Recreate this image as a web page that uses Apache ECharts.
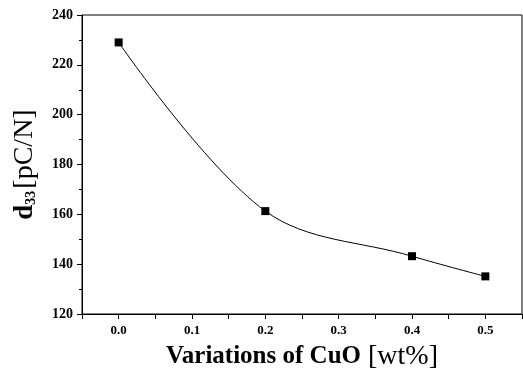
<!DOCTYPE html>
<html><head><meta charset="utf-8">
<script src="https://cdn.jsdelivr.net/npm/echarts@6/dist/echarts.min.js"></script>
<style>html,body{margin:0;padding:0;background:#fff}#c{width:523px;height:368px}</style>
</head><body><div id="c"></div>
<script>
const cuoContent = [0.0, 0.2, 0.4, 0.5];
const d33Values = [229, 161.3, 143.2, 135.1];
const yTicks = [120, 140, 160, 180, 200, 220, 240];

const chart = echarts.init(document.getElementById('c'));
const serif = '"Liberation Serif", "DejaVu Serif", serif';
chart.setOption({
  animation: false,
  grid: {left: 82, top: 15, right: 1, bottom: 54, show: true, borderColor: '#000', borderWidth: 1,
         containLabel: false, outerBoundsMode: 'none'},
  xAxis: {
    type: 'value', min: -0.05, max: 0.55, interval: 0.05,
    axisLine: {onZero: false, lineStyle: {color: '#000', width: 1}},
    axisTick: {show: true, inside: false, length: 5, lineStyle: {color: '#000'}},
    splitLine: {show: false},
    axisLabel: {
      color: '#000', fontFamily: serif, fontWeight: 'bold', fontSize: 13, margin: 10,
      formatter: function (v) {
        const k = Math.round(v * 100);
        if (k < 0 || k > 50 || k % 10 !== 0) return '';
        return (k / 100).toFixed(1);
      }
    },
    name: '{b|Variations of CuO}{r| [wt%]}',
    nameLocation: 'middle', nameGap: 29,
    nameTextStyle: {
      rich: {
        b: {fontFamily: serif, fontWeight: 'bold', fontSize: 25, color: '#000'},
        r: {fontFamily: serif, fontWeight: 'normal', fontSize: 28, color: '#000'}
      }
    }
  },
  yAxis: {
    type: 'value', min: yTicks[0], max: yTicks[yTicks.length - 1], interval: 20,
    axisLine: {show: true, onZero: false, lineStyle: {color: '#000', width: 1}},
    axisTick: {show: true, inside: false, length: 5, lineStyle: {color: '#000'}},
    minorTick: {show: true, splitNumber: 2, length: 3, lineStyle: {color: '#000'}},
    splitLine: {show: false},
    axisLabel: {color: '#000', fontFamily: serif, fontWeight: 'bold', fontSize: 14, margin: 9},
    name: '{b|d}{s|33}{r|[pC/N]}',
    nameLocation: 'middle', nameRotate: 90, nameGap: 43,
    nameTextStyle: {
      rich: {
        b: {fontFamily: serif, fontWeight: 'bold', fontSize: 27, color: '#000'},
        s: {fontFamily: serif, fontWeight: 'bold', fontSize: 14, color: '#000', padding: [12, 2, 0, 0]},
        r: {fontFamily: serif, fontWeight: 'normal', fontSize: 28, color: '#000'}
      }
    }
  },
  series: [{
    type: 'line',
    data: cuoContent.map((x, i) => [x, d33Values[i]]),
    smooth: 0.35,
    symbol: 'rect', symbolSize: 8,
    itemStyle: {color: '#000'},
    lineStyle: {color: '#000', width: 1}
  }]
});
</script></body></html>
